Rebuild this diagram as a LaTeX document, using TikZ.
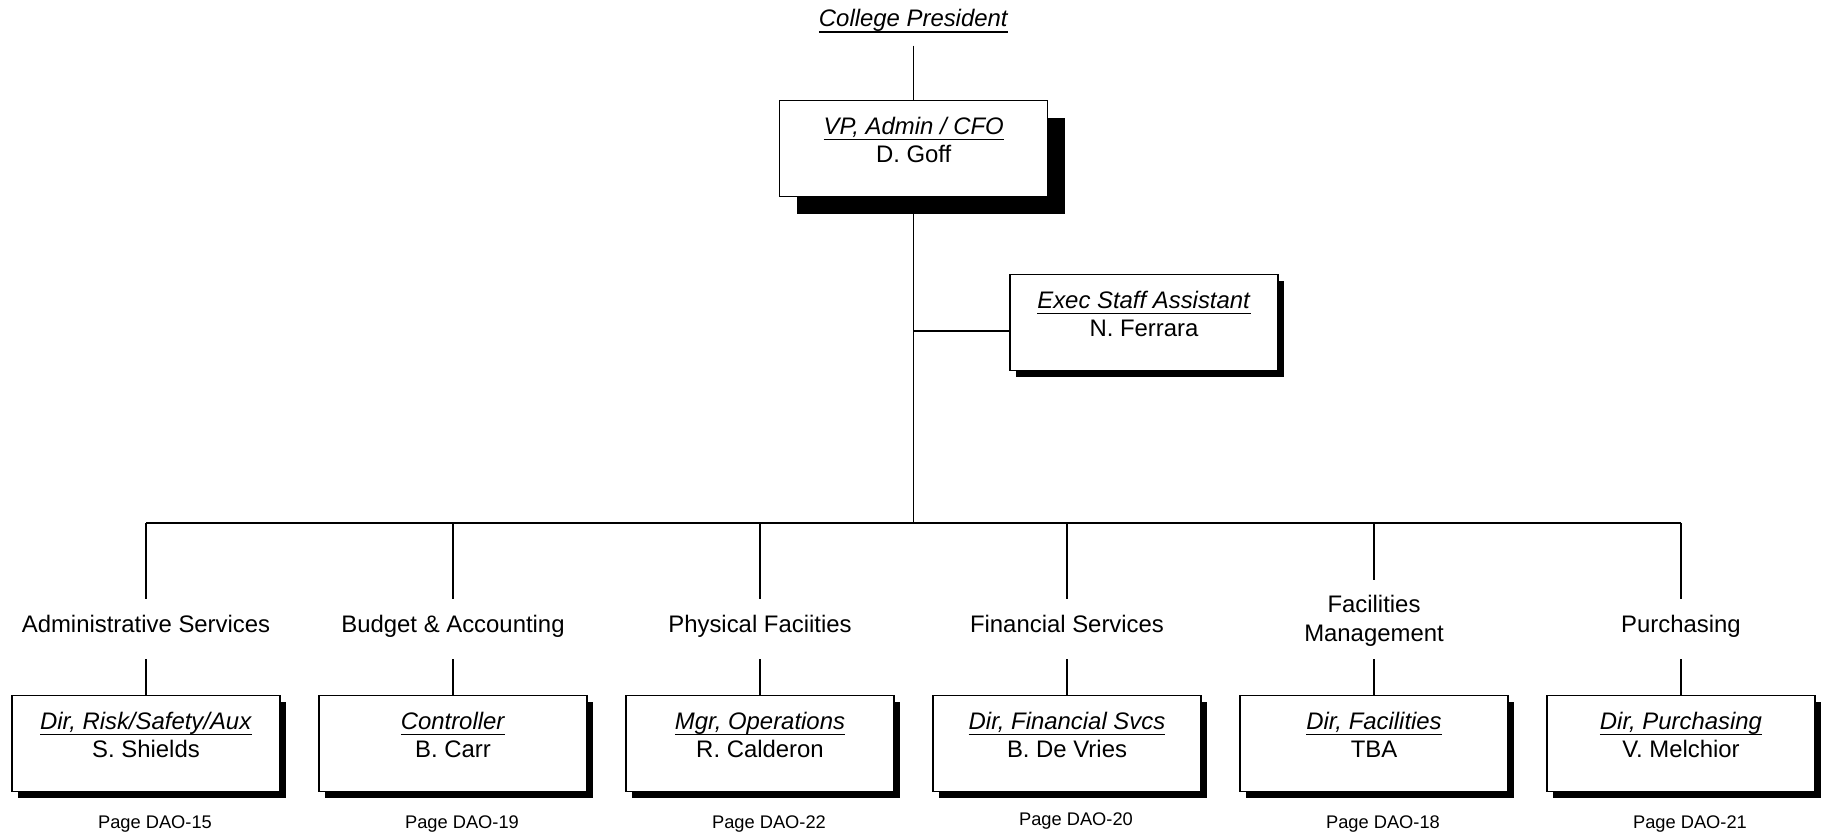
\documentclass[tikz,border=0pt]{standalone}
\usepackage{fontspec}
\setmainfont{Liberation Sans}
\usetikzlibrary{positioning,shadows}
\newcommand{\roletitle}[1]{\underline{\smash{\textit{#1}}}}

\begin{document}
\begin{tikzpicture}[line width=0.4pt,
    post/.style={draw,fill=white,minimum width=2.68cm,minimum height=0.96cm,inner sep=0pt,
        text height=0.62cm,text depth=0.34cm,align=center,anchor=north,
        font=\fontsize{6.8pt}{8pt}\selectfont,
        drop shadow={shadow xshift=#1,shadow yshift=-#1,fill=black,opacity=1}},
    post/.default=0.06cm,
    unit/.style={inner sep=0pt,text height=0.33cm,text depth=0.26cm,align=center,anchor=north,
        font=\fontsize{6.8pt}{8.2pt}\selectfont},
    pageref/.style={inner sep=0pt,font=\fontsize{5.2pt}{6pt}\selectfont}]
    \useasboundingbox (0,0) rectangle (18.29,-8.38);
    % top of the chart
    \node[font=\fontsize{6.8pt}{8pt}\selectfont,inner sep=0.11cm,anchor=base] (CP) at (9.137,-0.27) {\roletitle{College President}};
    \node[post=0.17cm] (VP) at (9.137,-1.00) {\roletitle{VP, Admin / CFO}\\D. Goff};
    \node[post] (EA) at (11.44,-2.74) {\roletitle{Exec Staff Assistant}\\N. Ferrara};
    \draw (CP.south) -- (VP.north);
    \coordinate (bus) at (VP.south |- 0,-5.23);
    \draw (VP.south) -- (bus);
    \draw (VP.south |- 0,-3.31) -- (EA.west |- 0,-3.31);
    % departments
    \node[unit] (L1) at (1.46,-5.99) {Administrative Services};
    \node[unit] (L2) at (4.53,-5.99) {Budget \& Accounting};
    \node[unit] (L3) at (7.60,-5.99) {Physical Faciities};
    \node[unit] (L4) at (10.67,-5.99) {Financial Services};
    \node[unit,text height=0.61cm,text depth=0.17cm] (L5) at (13.74,-5.80) {Facilities\\Management};
    \node[unit] (L6) at (16.81,-5.99) {Purchasing};
    \node[post] (B1) at (1.46,-6.95) {\roletitle{Dir, Risk/Safety/Aux}\\S. Shields};
    \node[post] (B2) at (4.53,-6.95) {\roletitle{Controller}\\B. Carr};
    \node[post] (B3) at (7.60,-6.95) {\roletitle{Mgr, Operations}\\R. Calderon};
    \node[post] (B4) at (10.67,-6.95) {\roletitle{Dir, Financial Svcs}\\B. De Vries};
    \node[post] (B5) at (13.74,-6.95) {\roletitle{Dir, Facilities}\\TBA};
    \node[post] (B6) at (16.81,-6.95) {\roletitle{Dir, Purchasing}\\V. Melchior};
    \node[pageref,below=0.23cm of B1,xshift=0.09cm] (P1) {Page DAO-15};
    \node[pageref,below=0.23cm of B2,xshift=0.09cm] (P2) {Page DAO-19};
    \node[pageref,below=0.23cm of B3,xshift=0.09cm] (P3) {Page DAO-22};
    \node[pageref,below=0.20cm of B4,xshift=0.09cm] (P4) {Page DAO-20};
    \node[pageref,below=0.23cm of B5,xshift=0.09cm] (P5) {Page DAO-18};
    \node[pageref,below=0.23cm of B6,xshift=0.09cm] (P6) {Page DAO-21};
    % connectors
    \draw (bus -| L1.north) -- (bus -| L6.north);
    \draw (bus -| L1.north) -- (L1.north);
    \draw (bus -| L2.north) -- (L2.north);
    \draw (bus -| L3.north) -- (L3.north);
    \draw (bus -| L4.north) -- (L4.north);
    \draw (bus -| L5.north) -- (L5.north);
    \draw (bus -| L6.north) -- (L6.north);
    \draw (L1.south) -- (B1.north);
    \draw (L2.south) -- (B2.north);
    \draw (L3.south) -- (B3.north);
    \draw (L4.south) -- (B4.north);
    \draw (L5.south) -- (B5.north);
    \draw (L6.south) -- (B6.north);
\end{tikzpicture}
\end{document}
